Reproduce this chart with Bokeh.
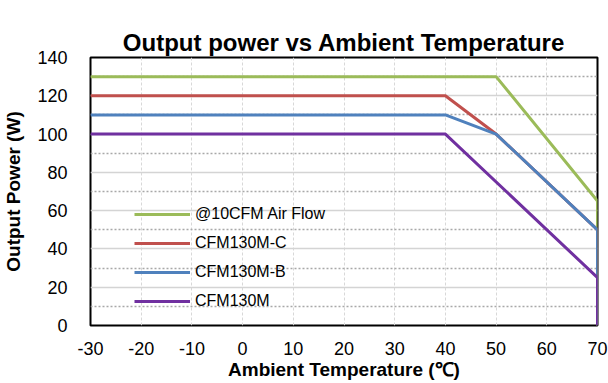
from bokeh.plotting import figure
from bokeh.models import FixedTicker, Legend, LegendItem, Range1d, CustomJSTickFormatter, Title
from bokeh.embed import file_html
from bokeh.resources import INLINE

x_ticks = [-30, -20, -10, 0, 10, 20, 30, 40, 50, 60, 70]
y_ticks = [0, 20, 40, 60, 80, 100, 120, 140]
y_minor = [10, 30, 50, 70, 90, 110, 130]

series_names = ["@10CFM Air Flow", "CFM130M-C", "CFM130M-B", "CFM130M"]
series_x = [
    [-30, 50, 70, 70],
    [-30, 40, 50, 70, 70],
    [-30, 40, 50, 70, 70],
    [-30, 40, 70, 70],
]
series_y = [
    [130, 130, 65, 0],
    [120, 120, 100, 50, 0],
    [110, 110, 100, 50, 0],
    [100, 100, 25, 0],
]
colors = ["#9BBB59", "#C0504D", "#4F81BD", "#7030A0"]
title_text = "Output power vs Ambient Temperature"

FONT = "Liberation Sans"

p = figure(width=608, height=383, output_backend="svg", toolbar_location=None,
           x_range=Range1d(-30, 70), y_range=Range1d(0, 140),
           min_border_left=90, min_border_right=11, min_border_top=57, min_border_bottom=58)

p.title.text = ""

main_title = Title(text=title_text, align="center", vertical_align="top",
                   text_font=FONT, text_font_size="24px", text_font_style="bold",
                   text_color="#000000", standoff=0)
p.add_layout(main_title, "above")

# invisible spacer between the frame and the title (added last -> closest to frame)
spacer = Title(text=".", text_alpha=0, text_font_size="1px", standoff=21)
p.add_layout(spacer, "above")

p.xaxis.ticker = FixedTicker(ticks=x_ticks)
p.yaxis.ticker = FixedTicker(ticks=y_ticks, minor_ticks=y_minor)
p.xaxis.formatter = CustomJSTickFormatter(code="return tick.toString();")
p.yaxis.formatter = CustomJSTickFormatter(code="return tick.toString();")

for ax in (p.xaxis[0], p.yaxis[0]):
    ax.major_label_text_font = FONT
    ax.major_label_text_font_size = "18px"
    ax.major_label_text_color = "#000000"
    ax.axis_label_text_font = FONT
    ax.axis_label_text_font_size = "19px"
    ax.axis_label_text_font_style = "bold"
    ax.axis_label_text_color = "#000000"
    ax.major_tick_line_color = None
    ax.minor_tick_line_color = None
    ax.axis_line_color = None

p.xaxis.axis_label = "Ambient Temperature (\u2103)"
p.yaxis.axis_label = "Output Power (W)"
p.xaxis.major_label_standoff = 10
p.yaxis.major_label_standoff = 17
p.xaxis.axis_label_standoff = 1
p.yaxis.axis_label_standoff = 10

p.ygrid.grid_line_color = "#d4d4d4"
p.ygrid.grid_line_width = 1.5
p.ygrid.minor_grid_line_color = "#a8a8a8"
p.ygrid.minor_grid_line_dash = "2 2"
p.ygrid.minor_grid_line_width = 1.5
p.xgrid.grid_line_color = "#d8d8d8"
p.xgrid.grid_line_dash = "3 2"
p.xgrid.grid_line_width = 1

p.outline_line_color = "#000000"
p.outline_line_width = 2
p.background_fill_color = "#ffffff"

items = []
for name, xs, ys, c in zip(series_names, series_x, series_y, colors):
    r = p.line(xs, ys, line_color=c, line_width=3)
    items.append(LegendItem(label=name, renderers=[r]))

legend = Legend(items=items, location=(44, 14))
legend.label_text_font = FONT
legend.label_text_font_size = "16px"
legend.label_text_color = "#000000"
legend.glyph_width = 56
legend.glyph_height = 20
legend.label_height = 20
legend.spacing = 9
legend.padding = 0
legend.margin = 0
legend.label_standoff = 5
legend.border_line_alpha = 0
legend.background_fill_alpha = 0
p.add_layout(legend, "center")

open("out.html", "w").write(file_html(p, INLINE))
